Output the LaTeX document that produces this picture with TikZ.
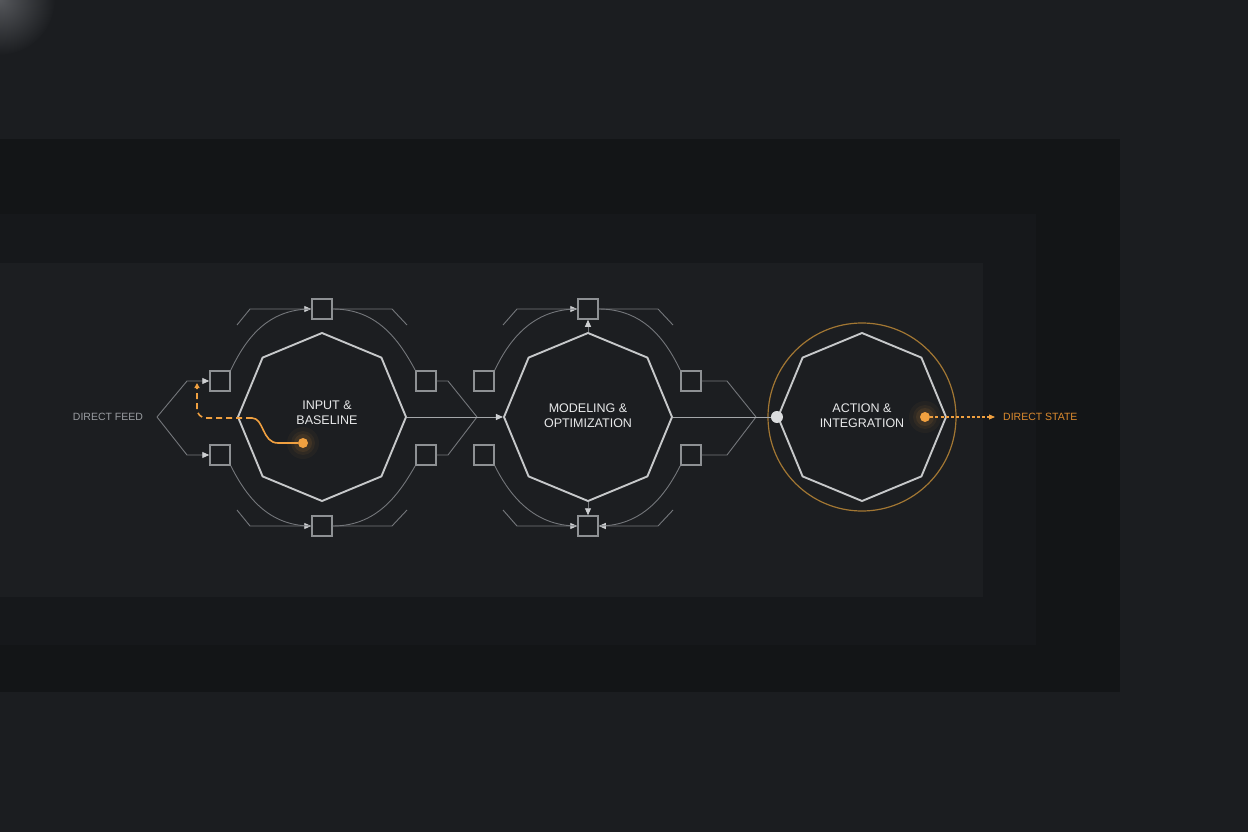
\documentclass[tikz,border=0pt]{standalone}
\usepackage{fontspec}
\setmainfont{Liberation Sans}
\usetikzlibrary{shapes.geometric,arrows.meta}
\definecolor{bg}{HTML}{1B1D20}
\definecolor{bandA}{HTML}{131517}
\definecolor{bandB}{HTML}{16181B}
\definecolor{bandC}{HTML}{1C1E21}
\definecolor{octc}{HTML}{C6C8CA}
\definecolor{sqc}{HTML}{8E9194}
\definecolor{wirec}{HTML}{74777B}
\definecolor{mainc}{HTML}{A4A7AA}
\definecolor{arrc}{HTML}{CDCFD1}
\definecolor{lblc}{HTML}{E8E9EA}
\definecolor{feedc}{HTML}{9A9DA1}
\definecolor{orng}{HTML}{F0A040}
\definecolor{statec}{HTML}{DB8A2E}
\definecolor{ringc}{HTML}{A27733}
\definecolor{dotw}{HTML}{DADCDE}
\definecolor{glowc}{HTML}{55575B}
\begin{document}
\begin{tikzpicture}[x=1pt,y=-1pt,
  oct/.style={regular polygon, regular polygon sides=8, shape border rotate=22.5,
    minimum size=168pt, inner sep=0pt, draw=octc, line width=1.9pt},
  sq/.style={draw=sqc, line width=1.5pt, minimum size=20pt, inner sep=0pt},
  wire/.style={draw=wirec, line width=0.9pt},
  mainwire/.style={draw=mainc, line width=1pt},
  arr/.style={-{Triangle[length=7pt,width=6pt,color=arrc]}},
  lbl/.style={font=\fontsize{12.5}{15}\selectfont, text=lblc, align=center, inner sep=0pt},
  sidetxt/.style={font=\fontsize{10.5}{12}\selectfont, inner sep=0pt},
  orangepath/.style={draw=orng, line width=1.6pt},
  odotstyle/.style={circle, fill=orng, minimum size=10pt, inner sep=0pt}
]
% background
\useasboundingbox (0,0) rectangle (1248,832);
\fill[bg] (0,0) rectangle (1248,832);
\begin{scope}
  \clip (0,0) rectangle (1248,832);
  \shade[inner color=glowc, outer color=bg] (0,0) circle (55pt);
\end{scope}
\fill[bandA] (0,139) rectangle (1120,692);
\fill[bandB] (0,214) rectangle (1036,645);
\fill[bandC] (0,263) rectangle (983,597);

% octagons
\node[oct] (o1) at (322,417) {};
\node[oct] (o2) at (588,417) {};
\node[oct] (o3) at (862,417) {};
\node[circle, draw=ringc, line width=1.2pt, minimum size=188pt, inner sep=0pt] (ring) at (862,417) {};

% squares
\node[sq] (t1) at (322,309) {};
\node[sq] (b1) at (322,526) {};
\node[sq] (l1a) at (220,381) {};
\node[sq] (l1b) at (220,455) {};
\node[sq] (r1a) at (426,381) {};
\node[sq] (r1b) at (426,455) {};
\node[sq] (t2) at (588,309) {};
\node[sq] (b2) at (588,526) {};
\node[sq] (l2a) at (484,381) {};
\node[sq] (l2b) at (484,455) {};
\node[sq] (r2a) at (691,381) {};
\node[sq] (r2b) at (691,455) {};

% labels
\node[lbl] (lab1) at (327,413) {INPUT \&\\BASELINE};
\node[lbl] (lab2) at (588,415.5) {MODELING \&\\OPTIMIZATION};
\node[lbl] (lab3) at (862,415.5) {ACTION \&\\INTEGRATION};
\node[sidetxt, text=feedc] (feed) at (108,417) {DIRECT FEED};
\node[sidetxt, text=statec, anchor=west, inner sep=4pt] (state) at (999,417) {DIRECT STATE};

% direct feed chevron
\coordinate (fa) at (157,417);
\draw[wire, arr] (fa) -- (187,381) -- (l1a.west);
\draw[wire, arr] (fa) -- (187,455) -- (l1b.west);

% octagon 1 surroundings
\draw[wire, arr] (237,325) -- (250,309) -- (t1.west);
\draw[wire] (t1.east) -- (392,309) -- (407,325);
\draw[wire, arr] (237,510) -- (250,526) -- (b1.west);
\draw[wire] (b1.east) -- (392,526) -- (407,510);
\draw[wire] (l1a.north east) .. controls (246,338) and (268,309) .. (t1.west);
\draw[wire] (t1.east) .. controls (376,309) and (398,338) .. (r1a.north west);
\draw[wire] (l1b.south east) .. controls (246,496) and (268,526) .. (b1.west);
\draw[wire] (b1.east) .. controls (376,526) and (398,496) .. (r1b.south west);
\coordinate (m1) at (477,417);
\draw[wire] (r1a.east) -- (448,381) -- (m1);
\draw[wire] (r1b.east) -- (448,455) -- (m1);
\draw[mainwire, arr] (o1.east) -- (o2.west);

% octagon 2 surroundings
\draw[wire, arr] (503,325) -- (517,309) -- (t2.west);
\draw[wire] (t2.east) -- (658,309) -- (673,325);
\draw[wire, arr] (503,510) -- (517,526) -- (b2.west);
\draw[wire, arr] (673,510) -- (658,526) -- (b2.east);
\draw[wire] (l2a.north east) .. controls (510,338) and (534,309) .. (t2.west);
\draw[wire] (t2.east) .. controls (642,309) and (665,338) .. (r2a.north west);
\draw[wire] (l2b.south east) .. controls (510,496) and (534,526) .. (b2.west);
\draw[wire] (r2b.south west) .. controls (665,496) and (642,526) .. (b2.east);
\draw[wire, arr] (o2.north) -- (t2.south);
\draw[wire, arr] (o2.south) -- (b2.north);
\coordinate (m2) at (756,417);
\draw[wire] (r2a.east) -- (727,381) -- (m2);
\draw[wire] (r2b.east) -- (727,455) -- (m2);

% octagon 3 connectors
\node[circle, fill=dotw, minimum size=12pt, inner sep=0pt] (wdot) at (o3.west) {};
\draw[mainwire] (o2.east) -- (wdot.west);

% orange glows and dots
\foreach \r/\o in {16/0.04,12/0.06,9/0.09} {
  \fill[orng, opacity=\o] (303,443) circle (\r pt);
  \fill[orng, opacity=\o] (925,417) circle (\r pt);
}
\node[odotstyle] (idot) at (303,443) {};
\node[odotstyle] (odot) at (925,417) {};

% orange path inside octagon 1
\coordinate (sj) at (252,418);
\draw[orangepath] (idot.west) -- (278,443) .. controls (262,443) and (264,418) .. (sj);
\draw[orangepath, dash pattern=on 6pt off 4pt, rounded corners=9pt,
  -{Triangle[length=5pt,width=5pt]}] (sj) -- (197,418) -- (197,383);

% direct state arrow
\draw[draw=orng, line width=1.1pt, dash pattern=on 3pt off 2.2pt, shorten >=4pt,
  -{Triangle[length=6pt,width=5pt]}] (odot.east) -- (state.west);
\end{tikzpicture}
\end{document}
